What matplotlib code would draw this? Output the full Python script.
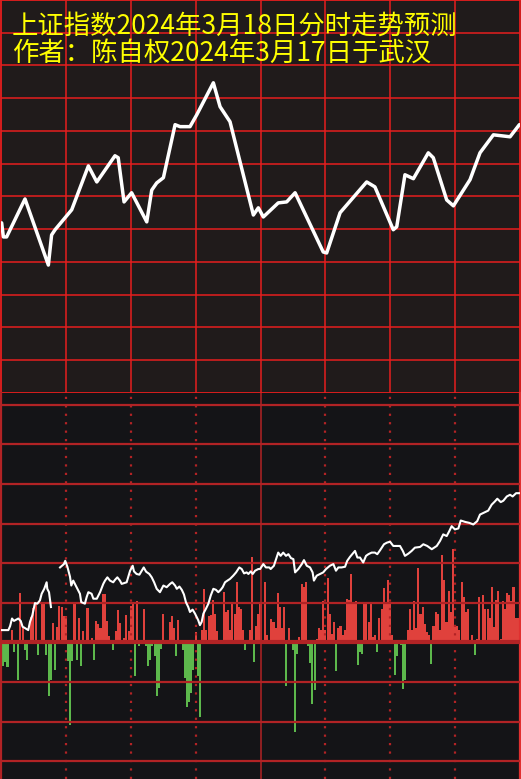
import numpy as np
import matplotlib
matplotlib.use("Agg")
import matplotlib.pyplot as plt

plt.rcParams["font.family"] = ["Noto Sans CJK SC", "DejaVu Sans"]

title_1 = "上证指数2024年3月18日分时走势预测"
title_2 = "作者：陈自权2024年3月17日于武汉"

# top panel: predicted intraday curve (minute, level in grid units, 10 per row)
pred_t = [0.3, 1.1, 2.6, 11.1, 21.9, 23.4, 25.0, 32.7, 40.4, 44.3,
          52.7, 54.2, 56.9, 60.4, 67.4, 69.7, 72.0, 75.1, 80.5, 82.8,
          87.4, 90.5, 98.2, 101.3, 105.9, 116.7, 119.0, 121.3, 128.2, 132.1,
          136.0, 149.0, 150.6, 156.8, 169.1, 172.9, 181.4, 183.0, 186.8, 190.7,
          197.6, 199.9, 206.1, 209.2, 216.9, 221.5, 227.7, 235.4, 239.7]
pred_v = [51.9, 47.6, 47.6, 59.2, 39.0, 48.2, 49.8, 55.9, 69.3, 64.4,
          72.4, 71.8, 58.3, 61.1, 52.2, 61.9, 64.1, 65.7, 81.9, 81.3,
          81.3, 84.9, 94.7, 87.4, 82.8, 54.3, 56.5, 53.7, 58.0, 58.3,
          61.1, 43.0, 42.7, 55.0, 64.4, 62.9, 49.8, 50.7, 66.6, 65.4,
          73.3, 71.8, 58.9, 57.1, 65.1, 73.3, 78.8, 78.2, 81.9]

# bottom panel: white line
nan = float("nan")
flow_t = [0, 3.4, 4.2, 5.1, 6.0, 8.0, 9.1, 10.0, 10.6, 12.6,
          13.4, 14.5, 15.3, 15.7, 16.8, 18.0, 18.8, 20.0, 21.1, 21.4,
          22.2, 22.7, 23.1, 25.0, 27.3, 29.1, 29.7, 30.7, 31.9, 32.5,
          33.4, 35.3, 36.5, 37.1, 38.8, 39.6, 40.4, 41.9, 42.7, 44.3,
          45.8, 47.3, 48.1, 49.2, 50.4, 51.9, 52.7, 53.8, 55.0, 55.8,
          58.1, 59.7, 60.9, 61.5, 62.7, 64.0, 65.1, 66.0, 67.1, 68.6,
          69.7, 70.8, 72.0, 73.5, 75.1, 76.6, 78.2, 79.2, 80.5, 81.3,
          82.5, 83.6, 84.6, 85.5, 86.6, 87.4, 88.6, 89.7, 91.2, 92.0,
          92.8, 93.6, 94.8, 95.9, 97.0, 98.2, 99.4, 100.5, 101.6, 102.5,
          103.6, 104.7, 105.9, 107.4, 108.7, 110.2, 111.3, 112.4, 113.6, 114.4,
          115.5, 116.4, 117.5, 119.0, 119.8, 121.3, 122.5, 124.1, 124.7, 126.2,
          127.2, 128.2, 129.3, 130.5, 131.8, 132.9, 134.1, 135.2, 136.0, 137.5,
          139.1, 140.1, 141.4, 142.9, 144.1, 144.7, 146.0, 147.5, 149.0, 150.3,
          152.1, 153.7, 154.9, 156.0, 157.5, 159.1, 160.1, 161.4, 163.7, 164.8,
          166.0, 166.8, 167.5, 168.8, 169.9, 171.4, 172.9, 174.0, 175.3, 177.1,
          178.4, 179.9, 181.4, 183.0, 184.5, 185.8, 186.8, 188.4, 189.9, 191.4,
          193.8, 195.3, 197.1, 199.2, 201.5, 203.0, 204.5, 206.1, 207.3, 208.4,
          209.9, 211.5, 212.6, 214.6, 216.6, 218.4, 220.2, 221.5, 223.0, 225.3,
          226.9, 228.4, 229.5, 231.1, 232.3, 233.9, 235.4, 236.6, 238.2, 239.7]
flow_v = [12.5, 12.5, 16.5, 24.2, 21.8, 24.2, 21.8, 15.8, 15.2, 12.5,
          20.8, 27.5, 35.8, 39.8, 39.2, 42.5, 49.2, 54.2, 60.8, 54.2,
          50.8, 42.5, 35.8, nan, 75.8, 79.2, 82.5, 76.5, 66.5, 57.5,
          62.5, 54.2, 49.2, 40.8, 39.2, 45.8, 50.8, 49.2, 44.2, 44.2,
          50.8, 59.2, 62.5, 65.8, 62.5, 60.8, 63.2, 65.8, 62.5, 59.2,
          60.8, 72.5, 77.5, 71.8, 69.2, 68.5, 72.5, 75.8, 71.5, 69.2,
          65.8, 60.8, 54.2, 50.8, 57.5, 55.8, 59.2, 60.8, 57.5, 54.2,
          56.5, 53.2, 48.5, 40.8, 35.8, 30.8, 33.2, 29.2, 22.5, 17.5,
          20.8, 29.2, 34.2, 39.2, 47.5, 54.2, 53.2, 50.8, 53.2, 55.8,
          60.8, 62.5, 64.2, 67.5, 70.8, 75.8, 74.2, 69.8, 70.8, 69.2,
          71.8, 69.2, 72.5, 74.2, 74.2, 79.2, 75.8, 75.8, 74.2, 77.5,
          84.2, 90.8, 87.5, 90.8, 87.5, 89.2, 85.2, 84.2, 70.8, 74.2,
          79.2, 83.2, 77.5, 75.8, 70.8, 62.5, 67.5, 69.2, 70.8, 74.2,
          77.5, 79.2, 72.5, 75.8, 75.8, 76.5, 82.5, 86.5, 92.5, 85.8,
          85.8, 83.2, 80.8, 87.5, 89.2, 90.8, 90.8, 89.2, 93.2, 99.2,
          100.8, 101.8, 97.5, 97.5, 97.5, 92.5, 87.5, 89.8, 92.5, 95.8,
          96.5, 99.2, 97.5, 94.2, 97.5, 102.5, 109.2, 107.5, 112.5, 117.5,
          114.2, 115.2, 123.2, 121.8, 120.8, 119.2, 122.5, 129.2, 130.8, 133.2,
          139.2, 142.5, 145.2, 141.8, 143.2, 147.5, 149.2, 147.5, 150.8, 150.8]

# bottom panel: per-minute bars (red up / green down)
bar_v = [0, -24, -20, -25, 0, 13, -10, 3, -38, 50, 15, -8, -18, 0, 26, 35, 40, -13, 3, 41,
         40, -13, -54, -38, 20, -28, 16, 37, 36, 27, 27, -19, -83, -19, 39, -18, 25, -24, 12, 3,
         35, 0, 5, -18, 22, 19, 15, 49, 49, 22, 7, 0, -8, 12, 33, 20, -2, 5, 28, 12,
         37, 39, -34, 42, -4, 0, 34, -4, -24, -18, -4, -14, -54, -46, -7, 29, 0, 0, 21, 27,
         15, -14, 23, -2, -8, -36, -65, -60, -51, -28, 11, -34, -75, 13, 54, 13, 27, 28, 43, 29,
         12, 0, 0, 51, 31, 33, 13, 40, 29, 61, 36, 34, 13, -8, 3, 13, 86, -20, 17, 29,
         39, 0, 61, 8, -2, 24, 21, 15, 50, 36, 15, 36, -44, 15, -2, -8, -90, -12, 6, 59,
         56, 61, -4, -21, -62, -48, 4, 15, 13, 42, 13, 65, 29, 9, 21, -29, 15, 17, 8, 13,
         44, 43, 69, 39, 42, -23, -10, -12, 40, 40, 21, 40, 6, 8, -10, 25, 34, 55, 40, 63,
         40, 8, -33, -14, 0, -3, -47, -38, 13, 34, 13, 42, 15, 75, 29, 36, 19, 11, 8, -22,
         17, 31, 29, 13, 88, 63, 21, 52, 31, 94, 17, 17, 13, 61, 46, 31, 34, 0, 8, -13,
         4, 46, 0, 48, 34, 34, 25, 56, 16, 43, 52, 4, 42, 34, 50, 48, 42, 56, 25, 25]

top_grid = "#e61e1e"
bot_grid = "#b22325"

fig = plt.figure(figsize=(5.21, 7.79), dpi=100)
fig.patch.set_facecolor("#141417")

# ---- top panel
ax1 = fig.add_axes([1 / 521, 1 - 392.7 / 779, 519 / 521, 392.7 / 779])
ax1.set_facecolor("#201b1b")
ax1.set_xlim(0, 240)
ax1.set_ylim(0, 120)
for v in range(10, 120, 10):
    ax1.axhline(v, color=top_grid, lw=1.1, zorder=1)
for t in range(30, 240, 30):
    ax1.axvline(t, color=top_grid, lw=1.1, zorder=1)
ax1.plot(pred_t, pred_v, color="white", lw=2.5, solid_joinstyle="round",
         solid_capstyle="round", zorder=3)
for s in ax1.spines.values():
    s.set_color(top_grid)
    s.set_linewidth(1.3)
ax1.set_xticks([])
ax1.set_yticks([])

# ---- bottom panel
ax2 = fig.add_axes([1 / 521, 0, 519 / 521, 386 / 779])
ax2.set_facecolor("#141417")
ax2.set_xlim(0, 240)
ax2.set_ylim(-137.9, 252)
minutes = np.arange(len(bar_v))
vals = np.array(bar_v)
colors = np.where(vals > 0, "#e0413c", "#5db84c")
ax2.bar(minutes, vals, width=0.95, color=colors, linewidth=0, zorder=2)
for v in range(-120, 260, 40):
    if v == 0:
        continue
    ax2.axhline(v, color=bot_grid, lw=1.6, zorder=3)
ax2.axhline(0, color=bot_grid, lw=3.0, zorder=3)
for t in [30, 60, 90, 150, 180, 210]:
    ax2.axvline(t, color=bot_grid, lw=1.6, linestyle=(0, (1, 2.8)), zorder=3)
ax2.axvline(120, color=bot_grid, lw=1.1, zorder=3)
ax2.plot(flow_t, flow_v, color="white", lw=1.5, zorder=4)
for name, s in ax2.spines.items():
    s.set_color(bot_grid)
    s.set_linewidth(1.6)
ax2.spines["top"].set_visible(False)
ax2.spines["bottom"].set_visible(False)
ax2.spines["right"].set_color("#e03030")
ax2.set_xticks([])
ax2.set_yticks([])

# ---- titles
fig.text(12 / 521, 1 - 26 / 779, title_1, color="#ffff00", fontsize=19,
         va="center", ha="left")
fig.text(12 / 521, 1 - 53 / 779, title_2, color="#ffff00", fontsize=19,
         va="center", ha="left")

fig.savefig("out.png", dpi=100, facecolor=fig.get_facecolor())
